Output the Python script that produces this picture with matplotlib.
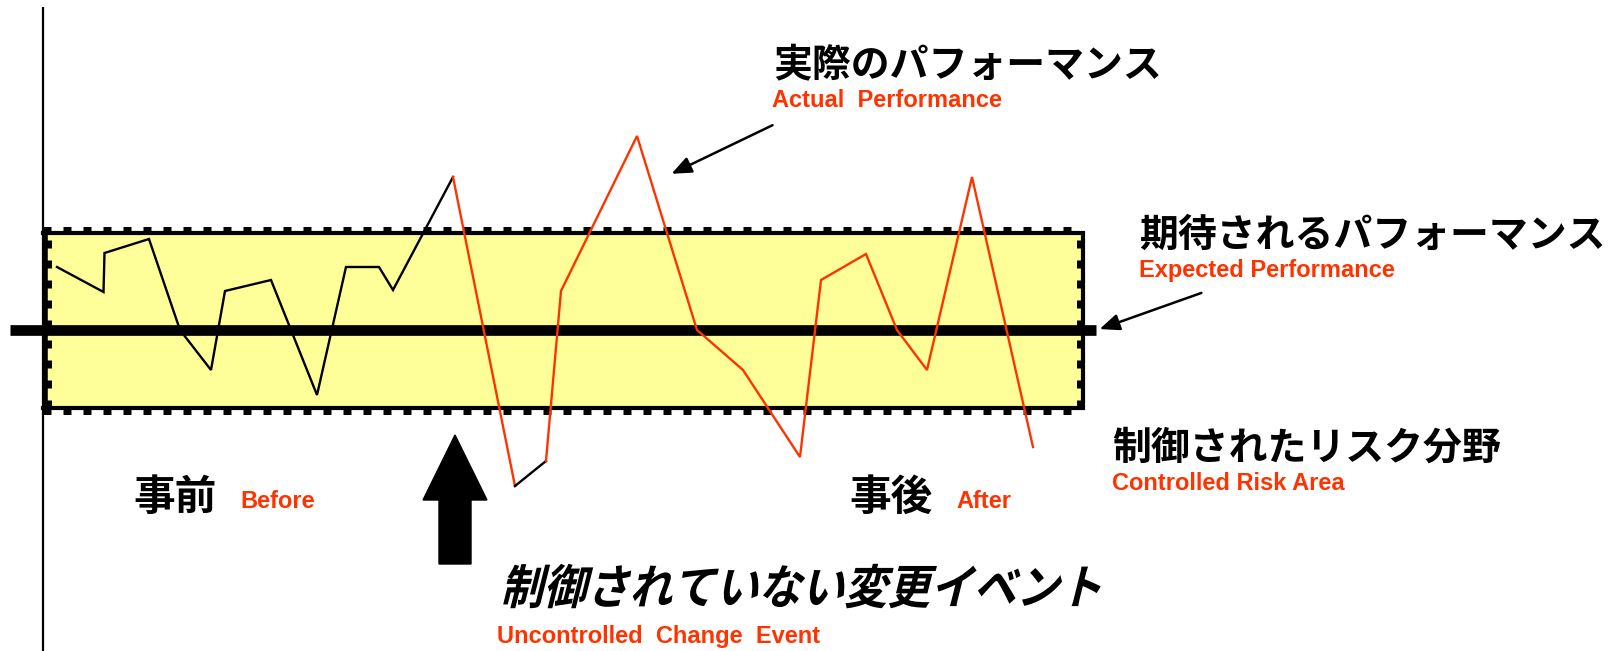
"""Controlled risk area chart - expected vs actual performance."""

import matplotlib
matplotlib.use("Agg")

import matplotlib.pyplot as plt
import matplotlib.patches as mpatches
from matplotlib.font_manager import FontProperties
from matplotlib.textpath import TextPath
from matplotlib.transforms import Affine2D

plt.rcParams["font.family"] = ["Noto Sans CJK JP", "DejaVu Sans"]

JP_FONT = "Noto Sans CJK JP"
EN_FONT = "Liberation Sans"
RED = "#FF3300"
YELLOW = "#FFFF99"

# ── Data ────────────────────────────────────────────────────────────
# actual performance over time (0 = expected performance)
time = [1.4, 6.05, 6.15, 10.6, 13.7, 16.8, 18.2, 22.8, 24.8, 27.4, 30.3,
        33.6, 35.0, 41.0, 47.2, 50.3, 51.8, 59.4, 65.4, 70.0, 75.7, 77.8,
        82.3, 85.4, 88.4, 92.9, 99.0]
perf = [6.3, 3.8, 7.7, 9.1, 0.0, -4.0, 3.9, 5.0, 0.0, -6.5, 6.3,
        6.3, 4.0, 15.3, -15.6, -13.1, 3.9, 19.4, 0.0, -4.0, -12.7, 5.0,
        7.6, 0.0, -4.0, 15.3, -11.7]
# colour of each segment (black = before, red = after the event)
seg_colors = ["black"] * 13 + [RED] + ["black"] + [RED] * 11

expected = 0.0
band_low, band_high = -7.8, 9.7
band_start, band_end = 0.0, 104.0
event_time = 41.2

W, H = 1619, 651


def fx(x):
    return x / W


def fy(y):
    return 1 - y / H


fig = plt.figure(figsize=(W / 100, H / 100), dpi=100)
fig.patch.set_facecolor("white")
ax = fig.add_axes([0, 0, 1, 1])
ax.axis("off")
ax.set_xlim(-4.3, 157.6)
ax.set_ylim(-32.1, 33.0)

# ── Controlled risk band ────────────────────────────────────────────
band = mpatches.Rectangle((band_start, band_low), band_end - band_start,
                          band_high - band_low, facecolor=YELLOW,
                          edgecolor="none", zorder=1)
ax.add_patch(band)
bx = [band_start, band_end, band_end, band_start]
by = [band_low, band_low, band_high, band_high]
ax.plot(bx, by, color="black", lw=3, solid_joinstyle="miter", zorder=2)
ax.plot([band_start + 0.2] * 2, [band_low - 0.3, band_high + 0.3],
        color="black", lw=4, zorder=2)

# dashed shadow edges: outside top / bottom, inside left / right
dash = dict(color="black", lw=3.6, linestyle=(0, (1.6, 2.4)),
            dash_capstyle="butt", zorder=2)
o = 0.4
ax.plot([band_start, band_end], [band_high + o] * 2, **dash)
ax.plot([band_start, band_end], [band_low - o] * 2, **dash)
ax.plot([band_end - o] * 2, [band_low, band_high], **dash)
ax.plot([band_start + o + 0.2] * 2, [band_low, band_high], **dash)

# vertical axis
ax.vlines(band_start, -33, 32.3, color="black", lw=1.6, zorder=3)
# expected performance line
ax.hlines(expected, -3.3, 105.3, color="black", lw=7.7, zorder=3)

# ── Actual performance line ─────────────────────────────────────────
i = 0
while i < len(seg_colors):
    j = i
    while j + 1 < len(seg_colors) and seg_colors[j + 1] == seg_colors[i]:
        j += 1
    ax.plot(time[i:j + 2], perf[i:j + 2], color=seg_colors[i], lw=1.7,
            solid_joinstyle="miter", zorder=4)
    i = j + 1

# ── Event arrow ─────────────────────────────────────────────────────
ax.add_patch(mpatches.FancyArrow(event_time, -23.4, 0, 12.9, width=3.2,
                                 head_width=6.4, head_length=6.5,
                                 length_includes_head=True, color="black",
                                 zorder=5))

# ── Labels ──────────────────────────────────────────────────────────
def jp(x, y, s, size):
    fig.text(fx(x), fy(y), s, fontsize=size, fontweight="bold",
             family=JP_FONT, color="black", ha="left", va="baseline")


def en(x, y, s, size=17):
    fig.text(fx(x), fy(y), s, fontsize=size, fontweight="bold",
             family=EN_FONT, color=RED, ha="left", va="baseline")


jp(773, 77, "実際のパフォーマンス", 28)
en(772, 107, "Actual  Performance")
jp(1139, 247, "期待されるパフォーマンス", 28)
en(1139, 277, "Expected Performance")
jp(1112, 460, "制御されたリスク分野", 28)
en(1112, 490, "Controlled Risk Area")
jp(133, 510, "事前", 30)
en(240, 508, "Before")
jp(849, 510, "事後", 30)
en(956, 508, "After")
en(497, 643, "Uncontrolled  Change  Event")

# slanted label for the uncontrolled event
tp = TextPath((0, 0), "制御されていない変更イベント", size=43,
              prop=FontProperties(family=JP_FONT, weight="bold"))
tr = (Affine2D().scale(1.0, 1.1).skew_deg(14, 0)
      .translate(500, H - 604).scale(1 / W, 1 / H) + fig.transFigure)
fig.add_artist(mpatches.PathPatch(tp, transform=tr, facecolor="black",
                                  edgecolor="none"))

# pointer arrows
arrow_kw = dict(arrowstyle="-|>,head_length=0.6,head_width=0.25",
                color="black", lw=1.8, mutation_scale=20)
ax.annotate("", xy=(fx(669), fy(175)), xytext=(fx(775), fy(124)),
            xycoords="figure fraction", textcoords="figure fraction",
            arrowprops=arrow_kw)
ax.annotate("", xy=(fx(1097), fy(330)), xytext=(fx(1204), fy(292)),
            xycoords="figure fraction", textcoords="figure fraction",
            arrowprops=arrow_kw)

fig.savefig("out.png", dpi=100, facecolor="white")
plt.close(fig)
